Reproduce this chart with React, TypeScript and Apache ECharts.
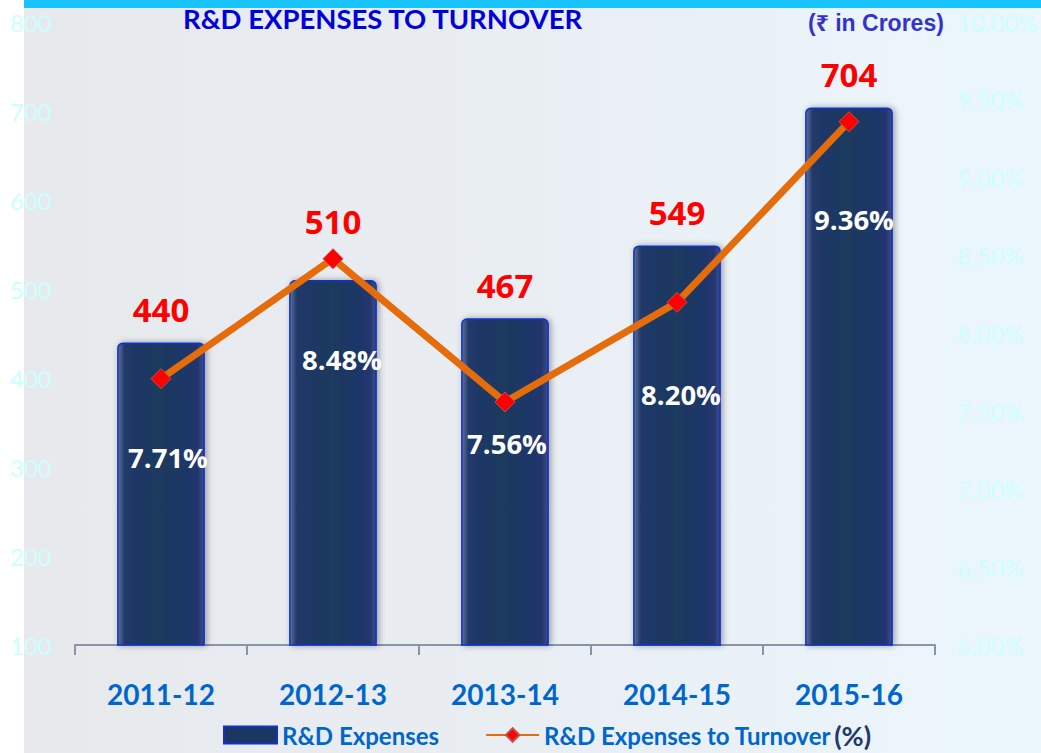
import React, { useEffect, useRef } from "react";
import * as echarts from "echarts";

const categories = ["2011-12", "2012-13", "2013-14", "2014-15", "2015-16"];
const rdExpenses = [440, 510, 467, 549, 704];
const rdToTurnover = [7.71, 8.48, 7.56, 8.2, 9.36];
const leftTicks = { min: 100, max: 800, interval: 100 };
const rightTicks = { min: 6, max: 10, interval: 0.5 };

const pctLabelOffsets = [
  [7, 79],
  [9, 101],
  [2, 41],
  [4, 92],
  [5, 98],
];
const barLabelDistances = [16, 42, 16, 16, 16];

export default function App() {
  const ref = useRef<HTMLDivElement>(null);
  useEffect(() => {
    if (!ref.current) return;
    const chart = echarts.init(ref.current, null, { renderer: "svg" });
    const barColor = "#1b365f";
    chart.setOption({
      animation: false,
      graphic: [
        {
          type: "rect",
          z: -10,
          silent: true,
          shape: { x: 24, y: 0, width: 1017, height: 753 },
          style: {
            fill: new echarts.graphic.LinearGradient(0, 0, 1, 0, [
              { offset: 0, color: "#e7e9ec" },
              { offset: 0.5, color: "#e9eef3" },
              { offset: 1, color: "#ebf7fd" },
            ]),
          },
        },
        {
          type: "rect",
          z: -9,
          silent: true,
          shape: { x: 24, y: 0, width: 1017, height: 8 },
          style: { fill: "#19c4fd" },
        },
        {
          type: "text",
          left: 183,
          top: 4,
          style: {
            text: "R&D EXPENSES TO TURNOVER",
            fill: "#0000dd",
            font: "bold 27.5px Lato",
          },
        },
        {
          type: "text",
          left: 808,
          top: 11,
          style: {
            text: "(₹ in Crores)",
            fill: "#3333cc",
            font: "bold 23px 'Liberation Sans', 'Noto Sans', sans-serif",
          },
        },
      ],
      grid: { left: 75, right: 106, top: 22, bottom: 108, containLabel: false },
      legend: {
        left: 218,
        top: 716,
        itemWidth: 53,
        itemHeight: 17,
        itemGap: 46,
        textStyle: {
          color: "#0066cc",
          fontFamily: "Lato",
          fontWeight: "bold",
          fontSize: 24,
          lineHeight: 28,
          rich: {
            a: { color: "#0066cc", fontFamily: "Lato", fontWeight: "bold", fontSize: 24, lineHeight: 28 },
            b: { color: "#1f3a6b", fontFamily: "Lato", fontSize: 27, lineHeight: 28, padding: [0, 0, 0, 3] },
          },
        },
        data: [
          {
            name: "R&D Expenses",
            icon: "rect",
            itemStyle: { color: barColor, borderColor: "#1030d0", borderWidth: 2 },
          },
          { name: "R&D Expenses to Turnover" },
        ],
        formatter: (name: string) =>
          name === "R&D Expenses to Turnover" ? "{a|" + name + "}{b|(%)}" : name,
      },
      xAxis: {
        type: "category",
        data: categories,
        axisLine: { lineStyle: { color: "#8a94a8", width: 2 } },
        axisTick: { show: true, length: 10, lineStyle: { color: "#8a94a8", width: 2 } },
        axisLabel: {
          color: "#0066cc",
          fontFamily: "Lato",
          fontWeight: "bold",
          fontSize: 28,
          margin: 35,
        },
      },
      yAxis: [
        {
          type: "value",
          min: leftTicks.min,
          max: leftTicks.max,
          interval: leftTicks.interval,
          splitLine: { show: false },
          axisLine: { show: false },
          axisTick: { show: false },
          axisLabel: {
            color: "#ccffff",
            fontFamily: "Lato",
            fontSize: 24,
            align: "left",
            margin: 65,
          },
        },
        {
          type: "value",
          min: rightTicks.min,
          max: rightTicks.max,
          interval: rightTicks.interval,
          splitLine: { show: false },
          axisLine: { show: false },
          axisTick: { show: false },
          axisLabel: {
            color: "#ccffff",
            fontFamily: "Lato",
            fontSize: 24,
            align: "left",
            margin: 22,
            formatter: (v: number) => v.toFixed(2) + "%",
          },
        },
      ],
      series: [
        {
          name: "R&D Expenses",
          type: "bar",
          data: rdExpenses.map((v, i) => ({
            value: v,
            label: { distance: barLabelDistances[i] },
          })),
          barWidth: "51%",
          itemStyle: {
            color: new echarts.graphic.LinearGradient(0, 0, 1, 0, [
              { offset: 0, color: "#5f7395" },
              { offset: 0.08, color: "#21386a" },
              { offset: 0.5, color: "#1a3a5e" },
              { offset: 0.92, color: "#21356e" },
              { offset: 1, color: "#3c4d86" },
            ]),
            borderColor: "#1030d0",
            borderWidth: 1.5,
            borderRadius: [5, 5, 0, 0],
            shadowColor: "rgba(0,0,0,0.35)",
            shadowBlur: 6,
            shadowOffsetX: 2,
          },
          label: {
            show: true,
            position: "top",
            color: "#ff0000",
            fontFamily: "'Noto Sans', sans-serif",
            fontWeight: "bold",
            fontSize: 33,
          },
        },
        {
          name: "R&D Expenses to Turnover",
          type: "line",
          yAxisIndex: 1,
          data: rdToTurnover.map((v, i) => ({
            value: v,
            label: { offset: pctLabelOffsets[i] },
          })),
          lineStyle: { color: "#e46c0a", width: 7 },
          itemStyle: { color: "#ff0000", borderColor: "#c0504d", borderWidth: 1 },
          symbol: "diamond",
          symbolSize: 20,
          z: 5,
          label: {
            show: true,
            position: "inside",
            color: "#ffffff",
            fontFamily: "'Open Sans', sans-serif",
            fontWeight: "bold",
            fontSize: 27.5,
            formatter: (p: any) => p.value.toFixed(2) + "%",
          },
        },
      ],
    });
    return () => chart.dispose();
  }, []);
  return (
    <div
      ref={ref}
      style={{ position: "fixed", left: 0, top: 0, width: 1041, height: 753, background: "#ffffff" }}
    />
  );
}
